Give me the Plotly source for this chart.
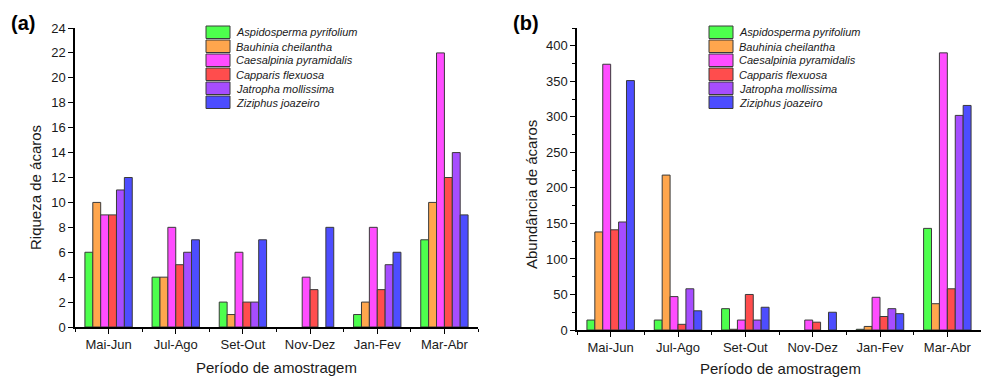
import plotly.graph_objects as go

# ---------------- data ----------------
categories = ["Mai-Jun", "Jul-Ago", "Set-Out", "Nov-Dez", "Jan-Fev", "Mar-Abr"]
species = ["Aspidosperma pyrifolium", "Bauhinia cheilantha", "Caesalpinia pyramidalis",
           "Capparis flexuosa", "Jatropha mollissima", "Ziziphus joazeiro"]
colors = ["#4dff4d", "#ffa64d", "#ff4dff", "#ff4d4d", "#a64dff", "#4d4dff"]

# (a) Riqueza de ácaros
rq_aspidosperma = [6, 4, 2, 0, 1, 7]
rq_bauhinia = [10, 4, 1, 0, 2, 10]
rq_caesalpinia = [9, 8, 6, 4, 8, 22]
rq_capparis = [9, 5, 2, 3, 3, 12]
rq_jatropha = [11, 6, 2, 0, 5, 14]
rq_ziziphus = [12, 7, 7, 8, 6, 9]

# (b) Abundância de ácaros
ab_aspidosperma = [14, 14, 30, 0, 1, 143]
ab_bauhinia = [138, 218, 1, 0, 5, 37]
ab_caesalpinia = [374, 47, 14, 14, 46, 390]
ab_capparis = [141, 8, 50, 11, 19, 58]
ab_jatropha = [152, 58, 14, 0, 30, 302]
ab_ziziphus = [351, 27, 32, 25, 23, 316]

riqueza = [rq_aspidosperma, rq_bauhinia, rq_caesalpinia, rq_capparis, rq_jatropha, rq_ziziphus]
abundancia = [ab_aspidosperma, ab_bauhinia, ab_caesalpinia, ab_capparis, ab_jatropha, ab_ziziphus]

# ---------------- layout constants ----------------
W, H = 981, 378
FONT = "Liberation Sans, Arial, Helvetica, sans-serif"
TXT = "#1a1a1a"
EDGE = "#3a3a3a"

def px(x):
    return x / W

def py(y):
    return 1 - y / H

xpos = list(range(len(categories)))

def line_widths(vals):
    return [0 if v == 0 else 1 for v in vals]

fig = go.Figure()
for i, name in enumerate(species):
    fig.add_trace(go.Bar(x=xpos, y=riqueza[i], name=name, xaxis="x", yaxis="y",
                         marker=dict(color=colors[i],
                                     line=dict(color=EDGE, width=line_widths(riqueza[i]))),
                         showlegend=False))
for i, name in enumerate(species):
    fig.add_trace(go.Bar(x=xpos, y=abundancia[i], name=name, xaxis="x2", yaxis="y2",
                         marker=dict(color=colors[i],
                                     line=dict(color=EDGE, width=line_widths(abundancia[i]))),
                         showlegend=False))

xcommon = dict(range=[-0.5, 5.5], tickmode="array", tickvals=xpos, ticktext=categories,
               showline=True, linecolor="black", linewidth=1.5, ticks="outside",
               ticklen=5, tickwidth=1.2, tickcolor="black", showgrid=False, zeroline=False,
               automargin=False,
               tickfont=dict(family=FONT, size=13, color=TXT),
               minor=dict(tick0=0.5, dtick=1, ticks="outside", ticklen=3, tickwidth=1.2,
                          tickcolor="black", showgrid=False))

ycommon = dict(showline=True, linecolor="black", linewidth=1.5, ticks="outside",
               ticklen=5, tickwidth=1.2, tickcolor="black", showgrid=False, zeroline=False,
               automargin=False,
               tickfont=dict(family=FONT, size=13, color=TXT))

fig.update_layout(
    template="none",
    width=W, height=H, autosize=False,
    margin=dict(l=0, r=0, t=0, b=0, pad=0),
    paper_bgcolor="white", plot_bgcolor="white",
    barmode="group", bargap=0.295, bargroupgap=0,
    font=dict(family=FONT, color=TXT),
    xaxis=dict(domain=[px(75), px(478)], anchor="y", **xcommon),
    yaxis=dict(domain=[py(327), py(28)], anchor="x", range=[0, 24], dtick=2, **ycommon),
    xaxis2=dict(domain=[px(577), 1.0], anchor="y2", **xcommon),
    yaxis2=dict(domain=[py(330), py(28)], anchor="x2", range=[0, 425], dtick=50,
                minor=dict(dtick=25, ticks="outside", ticklen=3, tickwidth=1.2,
                           tickcolor="black", showgrid=False),
                **ycommon),
)

annotations = []
shapes = []

# panel labels
annotations.append(dict(text="<b>(a)</b>", x=px(9), y=py(23), xref="paper", yref="paper",
                        xanchor="left", yanchor="middle", showarrow=False,
                        font=dict(family=FONT, size=20, color="black")))
annotations.append(dict(text="<b>(b)</b>", x=px(511), y=py(23), xref="paper", yref="paper",
                        xanchor="left", yanchor="middle", showarrow=False,
                        font=dict(family=FONT, size=20, color="black")))

# axis titles
annotations.append(dict(text="Riqueza de ácaros", x=px(35), y=py(188), xref="paper", yref="paper",
                        textangle=-90, showarrow=False, xanchor="center", yanchor="middle",
                        font=dict(family=FONT, size=15, color=TXT)))
annotations.append(dict(text="Abundância de ácaros", x=px(531), y=py(195), xref="paper", yref="paper",
                        textangle=-90, showarrow=False, xanchor="center", yanchor="middle",
                        font=dict(family=FONT, size=15, color=TXT)))
annotations.append(dict(text="Período de amostragem", x=px(276), y=py(367), xref="paper", yref="paper",
                        showarrow=False, xanchor="center", yanchor="middle",
                        font=dict(family=FONT, size=15, color=TXT)))
annotations.append(dict(text="Período de amostragem", x=px(780), y=py(368), xref="paper", yref="paper",
                        showarrow=False, xanchor="center", yanchor="middle",
                        font=dict(family=FONT, size=15, color=TXT)))

# legends (one per panel)
for lx in (206, 709):
    for i, name in enumerate(species):
        top = 26 + 14 * i
        shapes.append(dict(type="rect", xref="paper", yref="paper",
                           x0=px(lx), x1=px(lx + 24), y0=py(top + 12.5), y1=py(top),
                           fillcolor=colors[i], line=dict(color=EDGE, width=1)))
        annotations.append(dict(text="<i>" + name + "</i>", x=px(lx + 28), y=py(top + 6.5),
                                xref="paper", yref="paper", xanchor="left", yanchor="middle",
                                showarrow=False, font=dict(family=FONT, size=11, color=TXT)))

fig.update_layout(annotations=annotations, shapes=shapes)

fig.write_html("out.html")
